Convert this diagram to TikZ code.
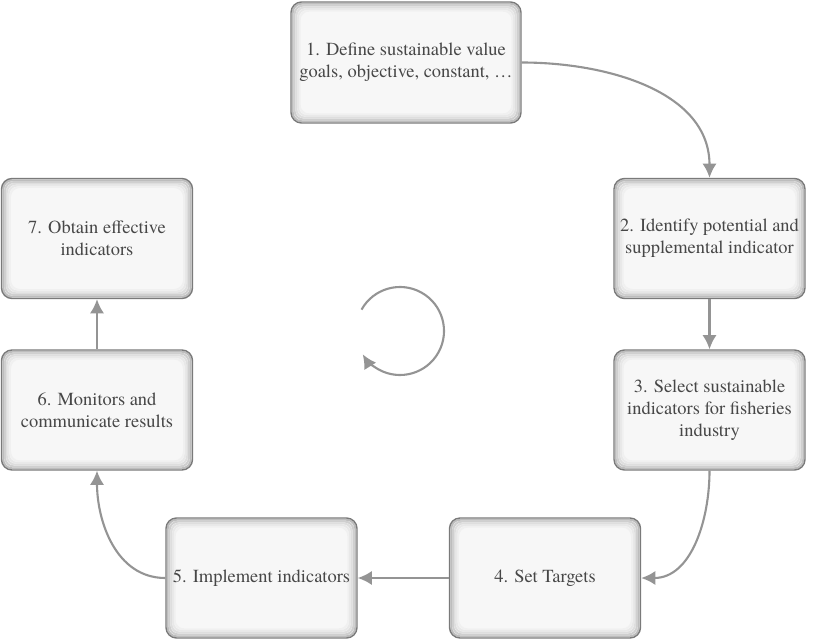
\documentclass[tikz,border=0pt]{standalone}
\usepackage{fontspec}
\newfontfamily\stagefont{texgyretermes}[Extension=.otf, UprightFont=*-regular]
\usepackage{tikz}
\usetikzlibrary{calc, arrows.meta, positioning}

\begin{document}
\begin{tikzpicture}[auto, >={Latex[length=8pt,width=8pt]}, font=\stagefont\fontsize{10.5}{12.6}\selectfont]
	\tikzstyle{stage} = [draw=black!52, line width=0.8pt, rectangle, rounded corners=6pt,
		fill=black!3, text=black!72, align=center, minimum width=3.82cm, minimum height=2.4cm,
		path picture={
			\foreach \i/\c in {1/26,2/19,3/13,4/9,5/6,6/3}
				\draw[black!\c, line width=1.1pt, rounded corners=5pt]
				([shift={(\i*1pt,-\i*1pt)}]path picture bounding box.north west) rectangle
				([shift={(-\i*1pt,\i*1pt)}]path picture bounding box.south east);
		}]
	\tikzstyle{flow} = [draw=black!42, line width=1.2pt, ->]
	
	\useasboundingbox (0, 0) rectangle (16.28, -12.82);
	
	\node[stage, minimum width=4.6cm, minimum height=2.42cm]	at (8.12, -1.25)	(s1)	{1. Define sustainable value\\goals, objective, constant, …};
	\node[stage]	at (14.19, -4.77)	(s2)	{2. Identify potential and\\supplemental indicator};
	\node[stage]	at (14.19, -8.2)	(s3)	{3. Select sustainable\\indicators for fisheries\\industry};
	\node[stage]	at (10.9, -11.56)	(s4)	{4. Set Targets};
	\node[stage]	at (5.23, -11.56)	(s5)	{5. Implement indicators};
	\node[stage]	at (1.94, -8.2)		(s6)	{6. Monitors and\\communicate results};
	\node[stage]	at (1.94, -4.77)	(s7)	{7. Obtain effective\\indicators};
	\coordinate (cycle) at (8.0, -6.62);
	
	\draw[flow] (s1.east) to[out=0, in=90] (s2.north);
	\draw[flow] (s2) -- (s3);
	\draw[flow] (s3.south) to[out=-90, in=0] (s4.east);
	\draw[flow] (s4) -- (s5);
	\draw[flow] (s5.west) to[out=180, in=-90] (s6.south);
	\draw[flow] (s6) -- (s7);
	
	\draw[flow] ([shift={(151:0.88)}]cycle) arc[start angle=151, end angle=-148, radius=0.88];
	
\end{tikzpicture}
\end{document}
